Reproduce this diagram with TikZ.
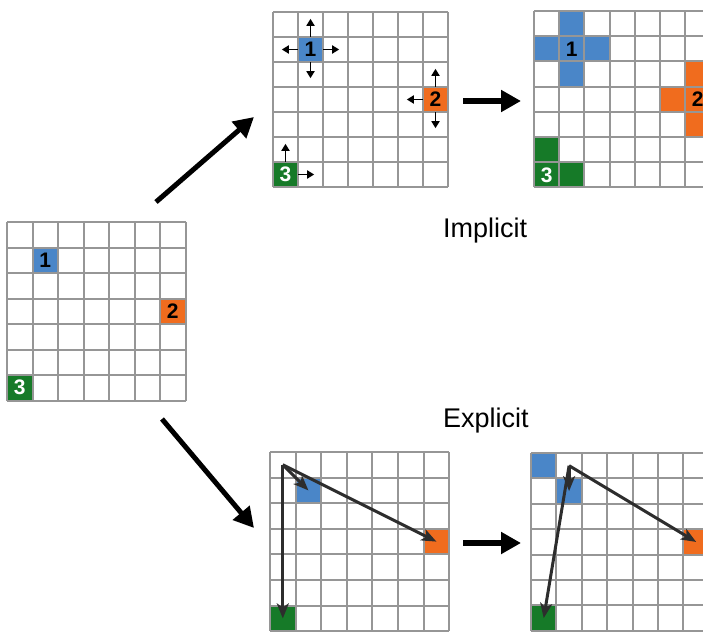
\documentclass[tikz,border=0pt]{standalone}
\usepackage{fontspec}
\setmainfont{Liberation Sans}
\usetikzlibrary{arrows.meta}

\definecolor{cblue}{RGB}{74,134,200}
\definecolor{corange}{RGB}{240,108,30}
\definecolor{cgreen}{RGB}{22,122,40}
\definecolor{gridgray}{RGB}{150,150,150}
\definecolor{jumpgray}{RGB}{45,45,45}

% 7x7 lattice of grid lines, top-left corner at the scope origin
\newcommand\drawlattice{%
  \foreach \k in {0,...,7}{%
    \draw[gridline] ({\k*\cs},0) -- ({\k*\cs},{7*\cs});
    \draw[gridline] (0,{\k*\cs}) -- ({7*\cs},{\k*\cs});
  }}
% centre of cell (column, row)
\newcommand\cc[2]{({(#1+0.5)*\cs},{(#2+0.5)*\cs})}

\tikzset{
  gridline/.style={draw=gridgray, line width=2pt, line cap=square},
  cellbox/.style={inner sep=0pt, minimum size=\cs pt, draw=none,
    font=\fontsize{21}{21}\selectfont\bfseries},
  bluecell/.style={cellbox, fill=cblue, text=black},
  orangecell/.style={cellbox, fill=corange, text=black},
  greencell/.style={cellbox, fill=cgreen, text=white},
  nudge/.style={-{Triangle[length=7pt,width=8pt]}, line width=1.7pt, black},
  jump/.style={-{Stealth[length=15pt,width=12pt,inset=4pt]}, line width=3pt, draw=jumpgray},
  bigarrow/.style={-{Triangle[length=20pt,width=21pt]}, line width=5pt, black},
  steplabel/.style={anchor=base west, inner sep=0pt, font=\fontsize{27}{30}\selectfont},
}

\begin{document}
\begin{tikzpicture}[x=1pt,y=-1pt]
\useasboundingbox (0,0) rectangle (703,637);
\clip (0,0) rectangle (703,637);

% initial state
\begin{scope}[shift={(7,222)}]
  \def\cs{25.5}
  \node[bluecell] (L1) at \cc{1}{1} {1};
  \node[orangecell] (L2) at \cc{6}{3} {2};
  \node[greencell] (L3) at \cc{0}{6} {3};
  \drawlattice
\end{scope}

% implicit: each agent looks at its neighbours
\begin{scope}[shift={(273,12)}]
  \def\cs{25}
  \node[bluecell] (M1) at \cc{1}{1} {1};
  \node[orangecell] (M2) at \cc{6}{3} {2};
  \node[greencell] (M3) at \cc{0}{6} {3};
  \drawlattice
  \draw[nudge] (M1.north) -- ++(0,-18);
  \draw[nudge] (M1.south) -- ++(0,16);
  \draw[nudge] (M1.west) -- ++(-16,0);
  \draw[nudge] (M1.east) -- ++(16,0);
  \draw[nudge] (M2.north) -- ++(0,-18);
  \draw[nudge] (M2.south) -- ++(0,16);
  \draw[nudge] (M2.west) -- ++(-16,0);
  \draw[nudge] (M3.north) -- ++(0,-18);
  \draw[nudge] (M3.east) -- ++(16,0);
\end{scope}

% implicit: result
\begin{scope}[shift={(534,11)}]
  \def\cs{25.2}
  \node[bluecell] (R1n) at \cc{1}{0} {};
  \node[bluecell] (R1w) at \cc{0}{1} {};
  \node[bluecell] (R1) at \cc{1}{1} {1};
  \node[bluecell] (R1e) at \cc{2}{1} {};
  \node[bluecell] (R1s) at \cc{1}{2} {};
  \node[orangecell] (R2n) at \cc{6}{2} {};
  \node[orangecell] (R2w) at \cc{5}{3} {};
  \node[orangecell] (R2) at \cc{6}{3} {2};
  \node[orangecell] (R2s) at \cc{6}{4} {};
  \node[greencell] (R3n) at \cc{0}{5} {};
  \node[greencell] (R3) at \cc{0}{6} {3};
  \node[greencell] (R3e) at \cc{1}{6} {};
  \drawlattice
\end{scope}

% explicit: jumps from a common origin
\begin{scope}[shift={(270,452)}]
  \def\cs{25.6}
  \node[bluecell] (E1) at \cc{1}{1} {};
  \node[orangecell] (E2) at \cc{6}{3} {};
  \node[greencell] (E3) at \cc{0}{6} {};
  \drawlattice
  \node[coordinate] (E0) at \cc{0}{0} {};
  \draw[jump] (E0) -- (E1.center);
  \draw[jump] (E0) -- (E2.center);
  \draw[jump] (E0) -- (E3.center);
\end{scope}

% explicit: next step
\begin{scope}[shift={(531,453)}]
  \def\cs{25.4}
  \node[bluecell] (F1a) at \cc{0}{0} {};
  \node[bluecell] (F1) at \cc{1}{1} {};
  \node[orangecell] (F2) at \cc{6}{3} {};
  \node[greencell] (F3) at \cc{0}{6} {};
  \drawlattice
  \node[coordinate] (F0) at \cc{1}{0} {};
  \draw[jump] (F0) -- (F1.center);
  \draw[jump] (F0) -- (F2.center);
  \draw[jump] (F0) -- (F3.center);
\end{scope}

% arrows between the states
\coordinate (upS) at (156,202);
\coordinate (upE) at (254,117);
\coordinate (dnS) at (162,419);
\coordinate (dnE) at (254,528);
\coordinate (tS) at (463,101);
\coordinate (tE) at (521,101);
\coordinate (bS) at (463,543);
\coordinate (bE) at (521,543);
\draw[bigarrow] (upS) -- (upE);
\draw[bigarrow] (dnS) -- (dnE);
\draw[bigarrow, line width=6pt] (tS) -- (tE);
\draw[bigarrow, line width=6pt] (bS) -- (bE);

\node[steplabel] (impl) at (443,237) {Implicit};
\node[steplabel] (expl) at (443,427) {Explicit};
\end{tikzpicture}
\end{document}
